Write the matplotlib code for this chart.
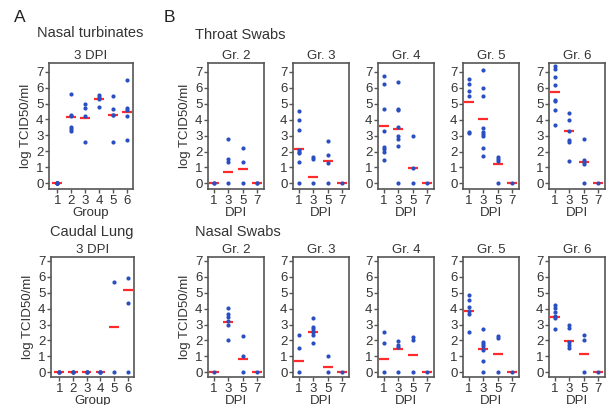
import matplotlib
matplotlib.use("Agg")
import matplotlib.pyplot as plt

plt.rcParams['font.family'] = ['Liberation Sans', 'DejaVu Sans']

BLUE = '#2a4fc0'
RED = '#ff2a2a'
GRAY = '#555555'

# ---- panel A data: group -> values ----
groups = [1, 2, 3, 4, 5, 6]
nt_vals = [
    [0, 0, 0, 0, 0, 0],
    [5.62, 4.27, 4.2, 3.52, 3.4, 3.25],
    [5.0, 4.75, 4.19, 2.6],
    [5.54, 5.42, 5.27, 4.79],
    [5.48, 4.69, 4.31, 4.27, 2.6],
    [6.5, 4.71, 4.6, 4.19, 2.71],
]
nt_lines = [0, 4.17, 4.12, 5.27, 4.27, 4.5]

cl_vals = [
    [0, 0, 0],
    [0, 0, 0],
    [0, 0, 0],
    [0, 0, 0],
    [5.67, 0],
    [5.9, 4.38, 0],
]
cl_lines = [0, 0, 0, 0, 2.85, 5.15]

# ---- panel B data: DPI -> values, per group ----
dpi = [1, 3, 5, 7]
gr_names = ['Gr. 2', 'Gr. 3', 'Gr. 4', 'Gr. 5', 'Gr. 6']

throat_vals = [
    [[0, 0], [2.78, 1.5, 1.36, 0], [2.23, 1.36, 0], [0, 0]],
    [[4.53, 4.0, 3.34, 2.09, 1.94, 1.88, 1.36, 0], [1.67, 1.5, 0], [2.67, 1.77, 1.25, 0], [0]],
    [[6.74, 6.22, 4.66, 3.3, 2.3, 2.17, 1.94, 1.46], [6.33, 4.66, 4.6, 3.55, 2.99, 2.78, 2.36, 0],
     [2.99, 0.98, 0], [0]],
    [[6.53, 6.22, 5.8, 5.45, 3.2, 3.13], [7.1, 5.99, 5.49, 3.47, 3.24, 3.11, 2.99, 2.21, 1.73],
     [1.63, 1.52, 1.38, 0], [0]],
    [[7.37, 7.2, 6.68, 6.16, 5.24, 5.14, 4.6, 3.66], [4.41, 3.97, 3.3, 2.74, 2.57, 1.38],
     [2.76, 1.46, 1.32, 1.21, 0], [0]],
]
throat_lines = [
    [0, 0.73, 0.9, 0],
    [2.13, 0.42, 1.42, 0],
    [3.61, 3.44, 0.98, 0],
    [5.11, 4.07, 1.19, 0],
    [5.74, 3.26, 1.36, 0],
]

nasal_vals = [
    [[0], [4.02, 3.67, 3.46, 3.25, 2.98, 2.0], [2.31, 1.0, 0], [0]],
    [[2.37, 1.54, 0.04], [3.4, 2.83, 2.69, 2.56, 2.37, 1.85], [1.04, 0.04], [0.04]],
    [[2.52, 1.85, 0], [1.94, 1.73, 1.58, 0], [2.21, 2.0, 0], [0]],
    [[4.88, 4.52, 4.08, 3.83, 3.67, 2.52], [2.69, 1.9, 1.75, 1.63, 1.42, 0.69, 0],
     [2.27, 2.17, 0], [0]],
    [[4.23, 4.02, 3.81, 3.56, 3.44, 2.69], [3.0, 2.77, 1.9, 1.69, 1.54], [2.37, 2.0, 0], [0]],
]
nasal_lines = [
    [0, 3.19, 0.81, 0],
    [0.71, 2.56, 0.31, 0.04],
    [0.85, 1.44, 1.06, 0],
    [3.85, 1.46, 1.15, 0],
    [3.46, 1.96, 1.13, 0],
]

W, H = 613, 405
fig = plt.figure(figsize=(W / 100, H / 100), dpi=100)
fig.patch.set_facecolor('white')


def px_axes(left, right, top, bottom):
    return fig.add_axes([left / W, 1 - bottom / H, (right - left) / W, (bottom - top) / H])


def style(ax, xs, xlim, ylim, ylabel=False, xlabel=None, title=None):
    ax.set_xlim(*xlim)
    ax.set_ylim(*ylim)
    ax.set_xticks(xs)
    ax.set_yticks(range(8))
    for s in ax.spines.values():
        s.set_color(GRAY)
        s.set_linewidth(1.2)
    ax.tick_params(colors=GRAY, labelcolor='#333333', labelsize=9.5, length=3, width=1, pad=1)
    if ylabel:
        ax.set_ylabel('log TCID50/ml', fontsize=9.5, color='#333333', labelpad=3)
    if xlabel:
        ax.set_xlabel(xlabel, fontsize=9.5, color='#333333', labelpad=0)
    if title:
        ax.set_title(title, fontsize=9.5, color='#333333', pad=3)


def draw(ax, xs, vals, lines, hw):
    for x, v in zip(xs, vals):
        ax.scatter([x] * len(v), v, s=9, color=BLUE, zorder=3, linewidths=0, clip_on=False)
    ax.hlines(lines, [x - hw for x in xs], [x + hw for x in xs], colors=RED, lw=1.6, zorder=2)


# panel A
ax = px_axes(49, 133, 63, 189)
draw(ax, groups, nt_vals, nt_lines, 0.35)
style(ax, groups, (0.4, 6.45), (-0.37, 7.55), ylabel=True, xlabel='Group', title='3 DPI')
fig.text(90 / W, 1 - 33 / H, 'Nasal turbinates', fontsize=10.5, ha='center', va='center', color='#333333')

ax = px_axes(51, 134, 257, 377)
draw(ax, groups, cl_vals, cl_lines, 0.35)
style(ax, groups, (0.4, 6.45), (-0.3, 7.25), ylabel=True, xlabel='Group', title='3 DPI')
fig.text(92 / W, 1 - 232 / H, 'Caudal Lung', fontsize=10.5, ha='center', va='center', color='#333333')

# panel B
lefts = [208, 293, 378, 463, 549]
for i, name in enumerate(gr_names):
    ax = px_axes(lefts[i], lefts[i] + 56, 63, 189)
    draw(ax, dpi, throat_vals[i], throat_lines[i], 0.7)
    style(ax, dpi, (0.2, 7.95), (-0.35, 7.55), ylabel=(i == 0), xlabel='DPI', title=name)

    ax = px_axes(lefts[i], lefts[i] + 56, 257, 377)
    draw(ax, dpi, nasal_vals[i], nasal_lines[i], 0.7)
    style(ax, dpi, (0.2, 7.95), (-0.3, 7.25), ylabel=(i == 0), xlabel='DPI', title=name)

fig.text(195 / W, 1 - 35 / H, 'Throat Swabs', fontsize=10.5, ha='left', va='center', color='#333333')
fig.text(195 / W, 1 - 232 / H, 'Nasal Swabs', fontsize=10.5, ha='left', va='center', color='#333333')

fig.text(14 / W, 1 - 17 / H, 'A', fontsize=12.5, ha='left', va='center', color='#222222')
fig.text(164 / W, 1 - 17 / H, 'B', fontsize=12.5, ha='left', va='center', color='#222222')

fig.savefig('out.png', dpi=100, facecolor=fig.get_facecolor())
